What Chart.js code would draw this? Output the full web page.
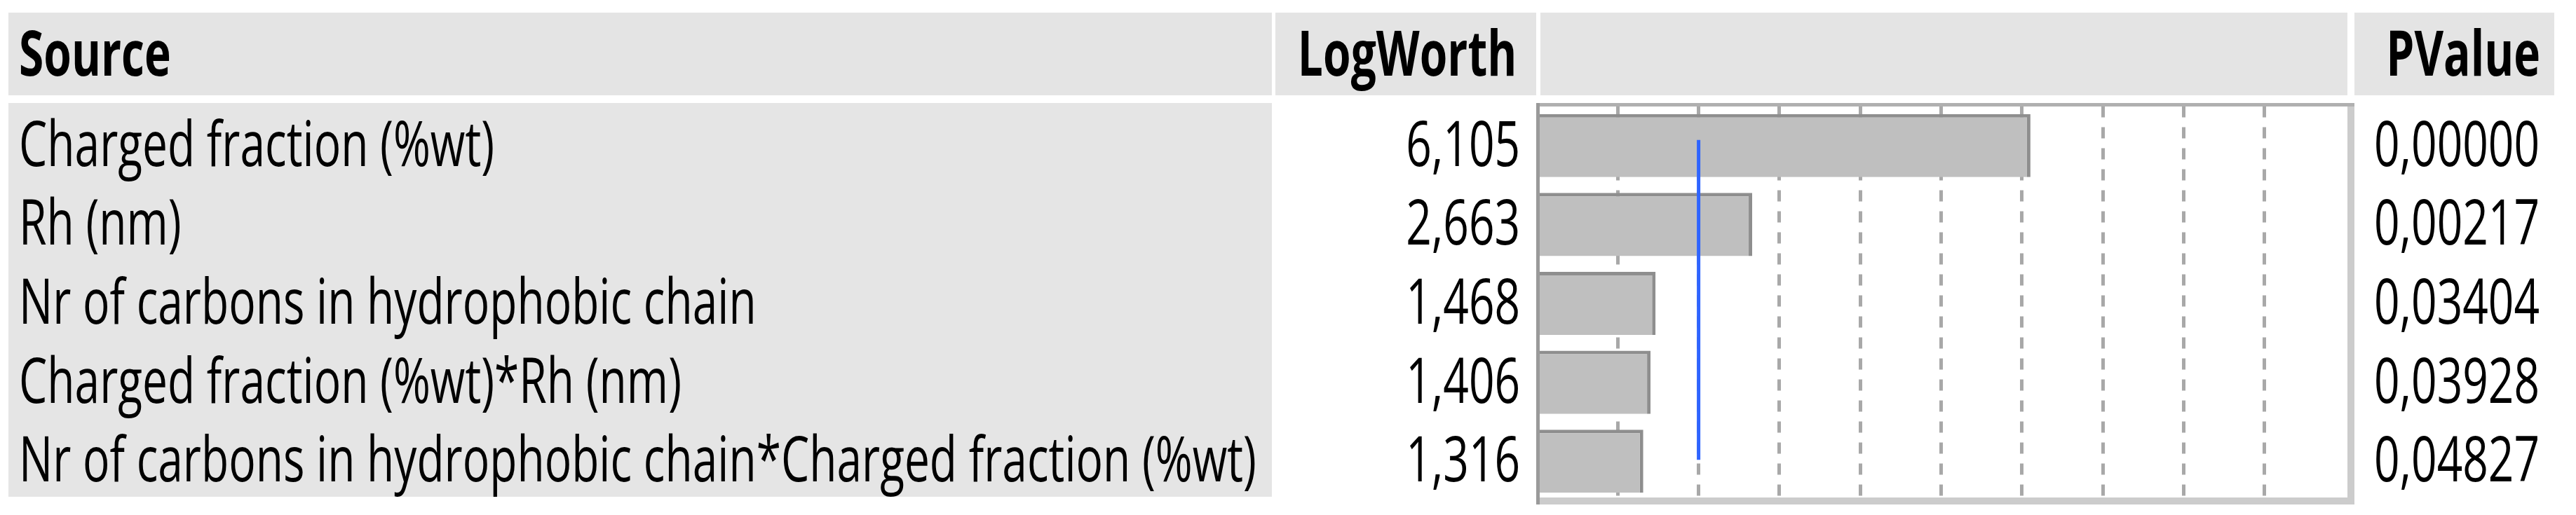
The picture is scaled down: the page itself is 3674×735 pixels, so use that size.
<!DOCTYPE html>
<html><head><meta charset="utf-8">
<script src="https://cdn.jsdelivr.net/npm/chart.js@4.4.1/dist/chart.umd.min.js"></script>
<style>
html,body{margin:0;padding:0;background:#fff;width:3674px;height:735px;overflow:hidden;position:relative;font-family:"Open Sans",sans-serif;}
.box{position:absolute;background:#e4e4e4;}
.t{position:absolute;white-space:nowrap;font-size:90px;color:#000;line-height:normal;top:0;}
.t.b{font-weight:700;}
.mk{display:inline-block;width:0;height:0;}
#wrap{position:absolute;left:2150px;top:130px;width:1230px;height:600px;}
</style></head><body>
<div class="box" style="left:12px;top:18px;width:1802px;height:118px"></div>
<div class="box" style="left:1819px;top:18px;width:372px;height:118px"></div>
<div class="box" style="left:2197px;top:18px;width:1151px;height:118px"></div>
<div class="box" style="left:3358px;top:18px;width:285px;height:118px"></div>
<div class="box" style="left:12px;top:147px;width:1802px;height:562px;background:#e5e5e5"></div>
<div id="wrap"><canvas id="c" width="1230" height="600"></canvas></div>
<script>
// ---- data ----
const headers = ['Source', 'LogWorth', 'PValue'];
const sources = [
  'Charged fraction (%wt)',
  'Rh (nm)',
  'Nr of carbons in hydrophobic chain',
  'Charged fraction (%wt)*Rh (nm)',
  'Nr of carbons in hydrophobic chain*Charged fraction (%wt)'
];
const logWorth = [6.105, 2.663, 1.468, 1.406, 1.316];
const pValues = [0.00000, 0.00217, 0.03404, 0.03928, 0.04827];
const xTickMin = 0, xTickMax = 10, xTickStep = 1;
const refLogWorth = 2; // p = 0.01 reference line

const fmt = (v, d) => v.toFixed(d).replace('.', ',');

const overlay = {
  id: 'overlay',
  afterDatasetsDraw(chart) {
    const {ctx, chartArea: a, scales: {x, y}} = chart;
    ctx.save();
    const bx = x.getPixelForValue(refLogWorth);
    ctx.strokeStyle = '#2f64ff';
    ctx.lineWidth = 5;
    ctx.beginPath();
    ctx.moveTo(bx, y.getPixelForValue(0) - 8);
    ctx.lineTo(bx, y.getPixelForValue(sources.length - 1) - 2);
    ctx.stroke();
    // frame
    ctx.fillStyle = '#cccccc';
    ctx.fillRect(a.right + 3, a.top - 4.5, 10, a.bottom - a.top + 10);
    ctx.fillRect(a.left - 1, a.bottom - 4.5, a.right + 13 - (a.left - 1), 10);
    ctx.fillStyle = '#b0b0b0';
    ctx.fillRect(a.left - 1, a.top - 4.5, a.right + 13 - (a.left - 1), 5);
    ctx.fillStyle = '#9a9a9a';
    ctx.fillRect(a.left - 1, a.top - 4.5, 5, a.bottom - a.top + 10);
    ctx.restore();
  }
};

const chart = new Chart(document.getElementById('c'), {
  type: 'bar',
  data: {
    labels: sources,
    datasets: [{
      data: logWorth,
      backgroundColor: '#bfbfbf',
      borderColor: '#8e8e8e',
      borderWidth: {top: 5, right: 5, bottom: 0, left: 0},
      borderSkipped: false,
      categoryPercentage: 1,
      barPercentage: 0.8
    }]
  },
  options: {
    indexAxis: 'y',
    responsive: false,
    devicePixelRatio: 1,
    animation: false,
    layout: {padding: {left: 42, right: 35, top: 21.5, bottom: 15.5}},
    plugins: {legend: {display: false}, tooltip: {enabled: false}},
    scales: {
      x: {
        min: xTickMin, max: xTickMax,
        ticks: {display: false, stepSize: xTickStep},
        grid: {
          drawTicks: false,
          lineWidth: 5,
          color: c => (c.tick && (c.tick.value === xTickMin || c.tick.value === xTickMax)) ? 'rgba(0,0,0,0)' : '#a8a8a8'
        },
        border: {display: false, dash: [16, 14]}
      },
      y: {display: false}
    }
  },
  plugins: [overlay]
});

// ---- table text ----
const wrapTop = 130;
function place(text, x, baseline, align, bold, sx) {
  const d = document.createElement('div');
  d.className = 't' + (bold ? ' b' : '');
  d.textContent = text;
  const m = document.createElement('span');
  m.className = 'mk';
  d.appendChild(m);
  document.body.appendChild(d);
  const off = m.getBoundingClientRect().top - d.getBoundingClientRect().top;
  d.style.top = (baseline - off) + 'px';
  if (align === 'left') {
    d.style.left = x + 'px';
    d.style.transformOrigin = 'left top';
  } else {
    d.style.right = (3674 - x) + 'px';
    d.style.transformOrigin = 'right top';
  }
  d.style.transform = 'scaleX(' + sx + ')';
  return d;
}
// horizontal condensation factor from the longest label
const probe = document.createElement('div');
probe.className = 't';
probe.style.left = '0px';
probe.textContent = sources[sources.length - 1];
document.body.appendChild(probe);
const sx = 1765 / probe.getBoundingClientRect().width;
probe.remove();

const headBase = 108;
place(headers[0], 27, headBase, 'left', true, sx);
place(headers[1], 2163, headBase, 'right', true, sx);
place(headers[2], 3623, headBase, 'right', true, sx);
const yS = chart.scales.y;
sources.forEach((s, i) => {
  const base = wrapTop + yS.getPixelForValue(i) + 29;
  place(s, 27, base, 'left', false, sx);
  place(fmt(logWorth[i], 3), 2168, base, 'right', false, sx);
  place(fmt(pValues[i], 5), 3622, base, 'right', false, sx);
});
</script>
</body></html>
